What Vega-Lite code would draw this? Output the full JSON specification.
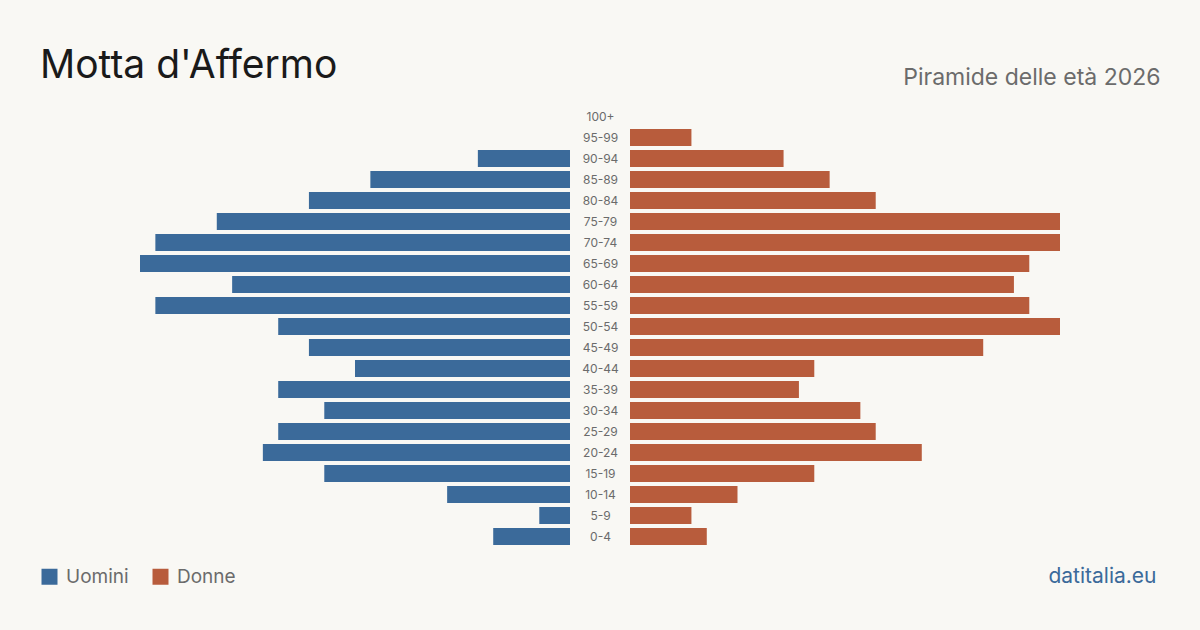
{
  "$schema": "https://vega.github.io/schema/vega-lite/v6.json",
  "width": 920,
  "height": 441,
  "autosize": {"type": "none"},
  "padding": {"left": 140, "top": 106, "right": 140, "bottom": 83},
  "background": "#f9f8f4",
  "title": {
    "text": "Motta d'Affermo",
    "anchor": "start",
    "frame": "group",
    "dx": -100,
    "dy": 77,
    "offset": 26,
    "baseline": "alphabetic",
    "fontSize": 39,
    "font": "Inter",
    "fontWeight": "normal",
    "color": "#1a1a1a"
  },
  "config": {
    "view": {"stroke": null},
    "font": "Inter"
  },
  "data": {
    "values": [
      {"age": "100+", "sesso": "Uomini", "n": 0},
      {"age": "95-99", "sesso": "Uomini", "n": 0},
      {"age": "90-94", "sesso": "Uomini", "n": 6},
      {"age": "85-89", "sesso": "Uomini", "n": 13},
      {"age": "80-84", "sesso": "Uomini", "n": 17},
      {"age": "75-79", "sesso": "Uomini", "n": 23},
      {"age": "70-74", "sesso": "Uomini", "n": 27},
      {"age": "65-69", "sesso": "Uomini", "n": 28},
      {"age": "60-64", "sesso": "Uomini", "n": 22},
      {"age": "55-59", "sesso": "Uomini", "n": 27},
      {"age": "50-54", "sesso": "Uomini", "n": 19},
      {"age": "45-49", "sesso": "Uomini", "n": 17},
      {"age": "40-44", "sesso": "Uomini", "n": 14},
      {"age": "35-39", "sesso": "Uomini", "n": 19},
      {"age": "30-34", "sesso": "Uomini", "n": 16},
      {"age": "25-29", "sesso": "Uomini", "n": 19},
      {"age": "20-24", "sesso": "Uomini", "n": 20},
      {"age": "15-19", "sesso": "Uomini", "n": 16},
      {"age": "10-14", "sesso": "Uomini", "n": 8},
      {"age": "5-9", "sesso": "Uomini", "n": 2},
      {"age": "0-4", "sesso": "Uomini", "n": 5},
      {"age": "100+", "sesso": "Donne", "n": 0},
      {"age": "95-99", "sesso": "Donne", "n": 4},
      {"age": "90-94", "sesso": "Donne", "n": 10},
      {"age": "85-89", "sesso": "Donne", "n": 13},
      {"age": "80-84", "sesso": "Donne", "n": 16},
      {"age": "75-79", "sesso": "Donne", "n": 28},
      {"age": "70-74", "sesso": "Donne", "n": 28},
      {"age": "65-69", "sesso": "Donne", "n": 26},
      {"age": "60-64", "sesso": "Donne", "n": 25},
      {"age": "55-59", "sesso": "Donne", "n": 26},
      {"age": "50-54", "sesso": "Donne", "n": 28},
      {"age": "45-49", "sesso": "Donne", "n": 23},
      {"age": "40-44", "sesso": "Donne", "n": 12},
      {"age": "35-39", "sesso": "Donne", "n": 11},
      {"age": "30-34", "sesso": "Donne", "n": 15},
      {"age": "25-29", "sesso": "Donne", "n": 16},
      {"age": "20-24", "sesso": "Donne", "n": 19},
      {"age": "15-19", "sesso": "Donne", "n": 12},
      {"age": "10-14", "sesso": "Donne", "n": 7},
      {"age": "5-9", "sesso": "Donne", "n": 4},
      {"age": "0-4", "sesso": "Donne", "n": 5}
    ]
  },
  "encoding": {
    "y": {
      "field": "age",
      "type": "nominal",
      "sort": ["100+", "95-99", "90-94", "85-89", "80-84", "75-79", "70-74", "65-69", "60-64", "55-59", "50-54", "45-49", "40-44", "35-39", "30-34", "25-29", "20-24", "15-19", "10-14", "5-9", "0-4"],
      "scale": {"paddingInner": 0.19, "paddingOuter": 0.095},
      "axis": {
        "orient": "left",
        "offset": -490,
        "domain": false,
        "ticks": false,
        "tickSize": 0,
        "grid": false,
        "labelPadding": 30,
        "labelAlign": "center",
        "labelFontSize": 12,
        "labelColor": "#6b6b6b",
        "labelFont": "Inter",
        "title": null
      }
    },
    "color": {
      "field": "sesso",
      "type": "nominal",
      "scale": {"domain": ["Uomini", "Donne"], "range": ["#3b6a9a", "#b85c3c"]},
      "legend": {
        "orient": "none",
        "legendX": -100,
        "legendY": 461,
        "direction": "horizontal",
        "title": null,
        "symbolType": "square",
        "symbolSize": 256,
        "symbolStrokeWidth": 0,
        "labelFontSize": 19,
        "labelColor": "#6b6b6b",
        "labelFont": "Inter",
        "labelOffset": 7,
        "columnPadding": 22,
        "padding": 0
      }
    }
  },
  "layer": [
    {
      "transform": [{"filter": {"field": "sesso", "equal": "Uomini"}}],
      "mark": {"type": "bar"},
      "encoding": {
        "x": {
          "field": "n",
          "type": "quantitative",
          "scale": {"domain": [0, 28], "range": [430, 0]},
          "axis": {
            "orient": "top",
            "labels": false,
            "ticks": false,
            "domain": false,
            "grid": false,
            "title": "Piramide delle età 2026",
            "titleX": 1020,
            "titleY": -22,
            "titleAlign": "right",
            "titleBaseline": "alphabetic",
            "titleFontSize": 23,
            "titleFontWeight": "normal",
            "titleColor": "#6b6b6b",
            "titleFont": "Inter"
          }
        }
      }
    },
    {
      "transform": [{"filter": {"field": "sesso", "equal": "Donne"}}],
      "mark": {"type": "bar"},
      "encoding": {
        "x": {
          "field": "n",
          "type": "quantitative",
          "scale": {"domain": [0, 28], "range": [490, 920]},
          "axis": {
            "orient": "bottom",
            "labels": false,
            "ticks": false,
            "domain": false,
            "grid": false,
            "title": "datitalia.eu",
            "titleX": 1016,
            "titleY": 35,
            "titleAlign": "right",
            "titleBaseline": "alphabetic",
            "titleFontSize": 21,
            "titleFontWeight": "normal",
            "titleColor": "#3b6a9a",
            "titleFont": "Inter"
          }
        }
      }
    }
  ],
  "resolve": {"scale": {"x": "independent"}, "axis": {"x": "independent"}}
}
